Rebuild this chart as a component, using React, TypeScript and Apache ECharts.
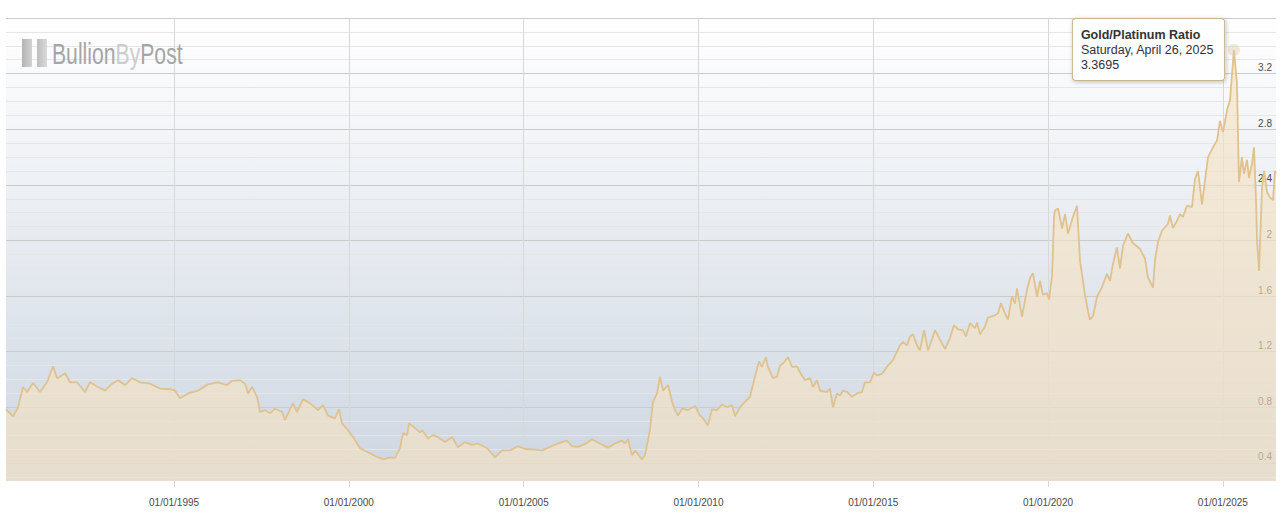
import React, { useEffect, useRef } from 'react';
import * as echarts from 'echarts';

const seriesName = 'Gold/Platinum Ratio';

const dates: string[] = [
  '1990-03-12','1990-05-25','1990-07-16','1990-09-06','1990-10-18','1990-12-20',
  '1991-03-03','1991-05-15','1991-07-16','1991-08-27','1991-09-27','1991-11-18',
  '1992-01-10','1992-03-23','1992-06-15','1992-08-06','1992-10-18',
  '1993-01-10','1993-03-25','1993-05-26','1993-08-07','1993-10-19',
  '1994-01-10','1994-04-24','1994-08-07','1994-11-20',
  '1995-01-11','1995-03-04','1995-05-27','1995-09-08','1995-12-21',
  '1996-04-04','1996-07-07','1996-08-28','1996-11-20',
  '1997-01-12','1997-02-12','1997-03-26','1997-05-17','1997-06-18','1997-08-08','1997-09-30','1997-11-21',
  '1998-02-02','1998-03-05','1998-05-28','1998-07-08','1998-09-09','1998-11-21',
  '1999-02-13','1999-04-06','1999-05-28','1999-08-09','1999-09-20','1999-10-21','1999-12-23',
  '2000-02-20','2000-04-27','2000-07-09','2000-10-01','2000-12-24',
  '2001-03-07','2001-04-28','2001-06-19','2001-07-20','2001-08-31','2001-09-21','2001-11-23',
  '2002-01-14','2002-02-04','2002-04-08','2002-05-30','2002-07-21','2002-10-02','2002-12-14',
  '2003-02-15','2003-04-29','2003-07-11','2003-09-11','2003-12-15',
  '2004-03-08','2004-05-20','2004-08-11','2004-11-02',
  '2005-01-15','2005-04-29','2005-07-11','2005-10-02','2005-12-25',
  '2006-03-29','2006-05-20','2006-07-22','2006-10-03','2006-12-15',
  '2007-03-08','2007-05-31','2007-08-12','2007-10-24','2007-11-24','2007-12-26',
  '2008-02-06','2008-03-09','2008-05-21','2008-06-21','2008-08-12','2008-09-13','2008-10-25','2008-11-25','2008-12-27',
  '2009-02-17','2009-03-31','2009-05-01','2009-06-01','2009-07-13','2009-09-14','2009-11-25',
  '2010-01-17','2010-02-18','2010-04-11','2010-05-22','2010-07-13','2010-09-04','2010-10-26','2010-12-17',
  '2011-01-18','2011-03-11','2011-05-02','2011-06-23','2011-08-14','2011-09-25','2011-10-26','2011-12-07','2011-12-28',
  '2012-02-18','2012-04-01','2012-05-02','2012-06-03','2012-07-25','2012-09-05','2012-10-27','2012-11-27',
  '2013-01-18','2013-03-11','2013-04-12','2013-05-23','2013-06-24','2013-09-05','2013-10-06','2013-11-06','2013-12-18',
  '2014-01-19','2014-02-19','2014-04-02','2014-05-24','2014-07-15','2014-09-05','2014-10-07','2014-11-28',
  '2015-01-09','2015-02-09','2015-04-02','2015-06-04','2015-07-26','2015-09-06','2015-10-07','2015-11-07','2015-12-19',
  '2016-01-20','2016-02-20','2016-04-02','2016-05-03','2016-06-15','2016-07-27','2016-08-27','2016-10-08','2016-11-29',
  '2017-01-20','2017-03-13','2017-04-24','2017-06-05','2017-07-27','2017-08-27','2017-10-08','2017-11-29','2017-12-20',
  '2018-01-20','2018-03-13','2018-04-14','2018-06-05','2018-07-27','2018-08-27','2018-10-08','2018-11-09','2018-12-20',
  '2019-01-21','2019-02-11','2019-03-14','2019-04-04','2019-05-26','2019-06-27','2019-07-28','2019-09-08','2019-10-09','2019-11-09','2019-12-21',
  '2020-01-11','2020-02-12','2020-03-04','2020-03-14','2020-04-15','2020-05-27','2020-06-27','2020-07-28','2020-09-18','2020-10-30','2020-11-30',
  '2021-01-21','2021-02-22','2021-03-14','2021-04-15','2021-05-27','2021-07-18','2021-09-08','2021-10-09','2021-11-09','2021-12-21',
  '2022-01-22','2022-02-22','2022-04-15','2022-06-07','2022-08-18','2022-10-10','2022-11-10',
  '2023-01-02','2023-01-23','2023-02-23','2023-04-06','2023-06-07','2023-06-28','2023-07-29','2023-09-09','2023-10-10','2023-11-10','2023-12-22',
  '2024-02-13','2024-03-15','2024-04-16','2024-05-28','2024-06-28','2024-07-30','2024-09-20','2024-11-01','2024-12-02',
  '2025-01-03','2025-02-14','2025-03-17','2025-04-07','2025-04-26','2025-05-28','2025-06-18','2025-07-19','2025-08-09',
  '2025-09-10','2025-10-01','2025-11-01','2025-11-22','2025-12-13','2025-12-24',
  '2026-01-14','2026-02-14','2026-03-07','2026-04-07','2026-05-08','2026-06-09','2026-06-29','2026-07-10',
];

const ratios: number[] = [
  0.786, 0.735, 0.80, 0.946, 0.91, 0.975,
  0.91, 0.98, 1.095, 1.01, 1.02, 1.045,
  0.98, 0.98, 0.91, 0.98, 0.95,
  0.92, 0.97, 0.995, 0.96, 1.01,
  0.98, 0.97, 0.935, 0.93,
  0.92, 0.865, 0.90, 0.92, 0.965,
  0.98, 0.96, 0.99, 0.995,
  0.97, 0.90, 0.946, 0.875, 0.766, 0.78, 0.757, 0.79,
  0.766, 0.71, 0.83, 0.766, 0.857, 0.83,
  0.78, 0.815, 0.74, 0.72, 0.786, 0.685, 0.635,
  0.58, 0.506, 0.48, 0.45, 0.425,
  0.44, 0.436, 0.506, 0.614, 0.60, 0.685, 0.65,
  0.62, 0.635, 0.575, 0.60, 0.585, 0.55, 0.585,
  0.513, 0.55, 0.53, 0.54, 0.506,
  0.44, 0.49, 0.49, 0.52,
  0.50, 0.495, 0.49, 0.515, 0.54,
  0.56, 0.52, 0.515, 0.535, 0.57,
  0.54, 0.51, 0.54, 0.56, 0.54, 0.57,
  0.455, 0.49, 0.425, 0.455, 0.635, 0.84, 0.90, 1.02, 0.92,
  0.96, 0.84, 0.78, 0.74, 0.79, 0.78, 0.81,
  0.74, 0.72, 0.67, 0.785, 0.78, 0.82, 0.80, 0.815,
  0.735, 0.80, 0.84, 0.875, 1.02, 1.13, 1.09, 1.16, 1.09,
  1.01, 1.02, 1.10, 1.115, 1.16, 1.09, 1.095, 1.05,
  0.995, 1.01, 0.946, 0.995, 0.92, 0.91, 0.935, 0.80, 0.90,
  0.885, 0.92, 0.91, 0.875, 0.90, 0.91, 0.98, 0.98,
  1.05, 1.03, 1.04, 1.10, 1.14, 1.20, 1.245, 1.27, 1.245,
  1.31, 1.325, 1.245, 1.21, 1.355, 1.21, 1.27, 1.355, 1.285,
  1.22, 1.30, 1.39, 1.36, 1.355, 1.31, 1.405, 1.37, 1.41,
  1.325, 1.38, 1.445, 1.455, 1.475, 1.55, 1.475, 1.43, 1.60,
  1.545, 1.655, 1.535, 1.45, 1.645, 1.73, 1.765, 1.595, 1.71, 1.61, 1.62,
  1.575, 1.74, 2.17, 2.216, 2.23, 2.085, 2.19, 2.05, 2.17, 2.25, 1.856,
  1.61, 1.49, 1.43, 1.455, 1.595, 1.665, 1.76, 1.71, 1.83, 1.95,
  1.80, 1.96, 2.05, 1.98, 1.94, 1.87, 1.735,
  1.66, 1.86, 1.99, 2.07, 2.12, 2.18, 2.09, 2.14, 2.19, 2.17, 2.25,
  2.24, 2.44, 2.50, 2.26, 2.43, 2.60, 2.67, 2.72, 2.86,
  2.78, 2.94, 3.01, 3.20, 3.3695, 3.13, 2.42, 2.60, 2.48,
  2.58, 2.45, 2.55, 2.67, 2.29, 2.0,
  1.78, 2.38, 2.50, 2.35, 2.31, 2.29, 2.50, 2.48,
];

const xTickDates: string[] = [
  '1995-01-01', '2000-01-01', '2005-01-01', '2010-01-01', '2015-01-01', '2020-01-01', '2025-01-01',
];

const logoParts: string[] = ['Bullion', 'By', 'Post'];

function toTs(s: string): number {
  const [y, m, d] = s.split('-').map(Number);
  return new Date(y, m - 1, d).getTime();
}
function pad(n: number): string {
  return n < 10 ? '0' + n : String(n);
}

const FONT = "'Liberation Sans', Arial, sans-serif";

export default function App() {
  const ref = useRef<HTMLDivElement | null>(null);

  useEffect(() => {
    if (!ref.current) return;
    const chart = echarts.init(ref.current, null, { renderer: 'svg' });

    const data = dates.map((d, i) => [toTs(d), ratios[i]]);
    let peakIdx = 0;
    ratios.forEach((v, i) => { if (v > ratios[peakIdx]) peakIdx = i; });
    const peakTs = toTs(dates[peakIdx]);
    const peakVal = ratios[peakIdx];
    const peakDateText = new Date(peakTs).toLocaleDateString('en-US', {
      weekday: 'long', month: 'long', day: 'numeric', year: 'numeric',
    });
    const tickTs = xTickDates.map(toTs);

    const option: any = {
      animation: false,
      backgroundColor: '#ffffff',
      grid: {
        left: 6, right: 6, top: 18, bottom: 40,
        show: true, borderWidth: 0,
        containLabel: false,
        outerBoundsMode: 'none',
        backgroundColor: new echarts.graphic.LinearGradient(0, 0, 0, 1, [
          { offset: 0, color: '#ffffff' },
          { offset: 1, color: '#cdd6e1' },
        ]),
      },
      xAxis: {
        type: 'value',
        min: 'dataMin',
        max: 'dataMax',
        scale: true,
        axisLine: { show: false },
        axisTick: {
          show: true, length: 6, customValues: tickTs,
          lineStyle: { color: '#d4d4d4', width: 1 },
        },
        axisLabel: {
          show: true,
          customValues: tickTs,
          margin: 16,
          fontSize: 10,
          fontFamily: FONT,
          color: '#4a4a4a',
          formatter: (v: number) => {
            const d = new Date(v);
            return pad(d.getDate()) + '/' + pad(d.getMonth() + 1) + '/' + d.getFullYear();
          },
        },
        splitLine: { show: true, lineStyle: { color: '#d8d8d8', width: 1 } },
      },
      yAxis: {
        type: 'value',
        position: 'right',
        min: 0.27,
        max: 3.6,
        splitNumber: 8,
        minInterval: 0.4,
        maxInterval: 0.4,
        axisLine: { show: false },
        axisTick: { show: false },
        axisLabel: {
          inside: true,
          margin: 4,
          showMinLabel: false,
          showMaxLabel: false,
          fontSize: 10,
          fontFamily: FONT,
          color: '#4a4a4a',
          verticalAlign: 'bottom',
          padding: [0, 0, 1, 0],
          formatter: (v: number) => String(Math.round(v * 100) / 100),
        },
        splitLine: { show: true, showMinLine: false, lineStyle: { color: '#cbcbcb', width: 1 } },
        minorTick: { show: false, splitNumber: 4 },
        minorSplitLine: { show: true, lineStyle: { color: '#e6e6e6', width: 1 } },
      },
      series: [
        {
          name: seriesName,
          type: 'line',
          data,
          showSymbol: false,
          symbol: 'none',
          smooth: false,
          lineStyle: { color: '#dfc28e', width: 1.8 },
          areaStyle: { color: 'rgba(245,225,194,0.88)', origin: 'start' },
          markPoint: {
            silent: true,
            symbol: 'circle',
            symbolSize: 12,
            itemStyle: { color: 'rgba(225,205,165,0.45)' },
            data: [{ coord: [peakTs, peakVal] }],
            label: {
              show: true,
              position: [-155, -25],
              align: 'left',
              verticalAlign: 'top',
              backgroundColor: 'rgba(255,255,255,0.97)',
              borderColor: '#c9b58e',
              borderWidth: 1,
              borderRadius: 3,
              padding: [8, 10, 8, 8],
              shadowBlur: 4,
              shadowColor: 'rgba(0,0,0,0.25)',
              shadowOffsetX: 1,
              shadowOffsetY: 1,
              formatter: () =>
                '{t|' + seriesName + '}\n{d|' + peakDateText + '}\n{d|' + peakVal.toFixed(4) + '}',
              rich: {
                t: { fontFamily: FONT, fontSize: 12.5, fontWeight: 'bold', lineHeight: 15, color: '#333333' },
                d: { fontFamily: FONT, fontSize: 12.5, lineHeight: 15, color: '#333333' },
              },
            },
          },
        },
      ],
      graphic: [
        {
          type: 'rect', z: 100, x: 22, y: 39,
          shape: { width: 10, height: 28 },
          style: {
            fill: new echarts.graphic.LinearGradient(0, 0, 1, 0, [
              { offset: 0, color: '#b3b3b3' }, { offset: 1, color: '#d3d3d3' },
            ]),
          },
        },
        {
          type: 'rect', z: 100, x: 37, y: 39,
          shape: { width: 10, height: 28 },
          style: {
            fill: new echarts.graphic.LinearGradient(0, 0, 1, 0, [
              { offset: 0, color: '#bdbdbd' }, { offset: 1, color: '#dadada' },
            ]),
          },
        },
        {
          type: 'text', z: 100, x: 52, y: 54, scaleX: 0.73,
          style: {
            text: '{a|' + logoParts[0] + '}{b|' + logoParts[1] + '}{a|' + logoParts[2] + '}',
            verticalAlign: 'middle',
            align: 'left',
            font: '29px ' + FONT,
            rich: {
              a: { fontSize: 29, fontFamily: FONT, fill: '#a6a6a6', color: '#a6a6a6' },
              b: { fontSize: 29, fontFamily: FONT, fill: '#cdcdcd', color: '#cdcdcd' },
            },
          },
        },
      ],
    };

    chart.setOption(option);
    return () => chart.dispose();
  }, []);

  return (
    <div
      ref={ref}
      style={{ position: 'absolute', left: 0, top: 0, width: 1282, height: 521, background: '#fff' }}
    />
  );
}
